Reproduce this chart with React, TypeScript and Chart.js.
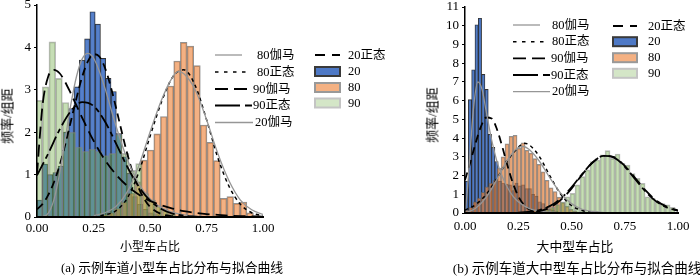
import React, { useEffect, useRef } from "react";
import { Chart, registerables } from "chart.js";

Chart.register(...registerables);

// ================= Panel (a): share of small cars =================
// histograms: bin start, bin width, frequency density per bin
const a20Start = 0;
const a20Width = 0.0234;
const a20Freq = [0.4, 1.25, 1.0, 1.05, 1.2, 2.0, 2.56, 3.07, 3.7, 4.2, 4.84, 4.55, 3.74, 3.27, 2.96, 1.97, 1.42, 1.03, 0.48, 0.3, 0.18, 0.1, 0.06, 0.03];
const a80Start = 0.2816;
const a80Width = 0.0294;
const a80Freq = [0.05, 0.1, 0.2, 0.35, 0.56, 0.83, 1.34, 1.58, 1.96, 2.37, 3.09, 3.68, 4.12, 4.03, 3.57, 2.17, 1.76, 1.33, 0.44, 0.48, 0.32, 0.35, 0.1, 0.03];
const a90Start = -0.006;
const a90Width = 0.0295;
const a90Freq = [2.75, 3.07, 4.13, 3.27, 2.7, 2.0, 1.65, 1.55, 1.6, 1.55, 1.45, 1.5, 1.95, 1.5, 1.1, 1.26, 0.55, 0.4, 0.25, 0.15, 0.08];

// fitted curves
const aG80X = [0.25, 0.3, 0.35, 0.4, 0.45, 0.5, 0.55, 0.6, 0.625, 0.65, 0.7, 0.75, 0.8, 0.85, 0.9, 0.95, 1.0];
const aG80Y = [0.03, 0.1, 0.25, 0.6, 1.2, 2.0, 2.75, 3.3, 3.43, 3.38, 3.0, 2.3, 1.5, 0.85, 0.4, 0.17, 0.06];
const aN80X = [0.25, 0.3, 0.35, 0.4, 0.45, 0.5, 0.55, 0.6, 0.65, 0.7, 0.75, 0.8, 0.85, 0.9, 0.95, 1.0];
const aN80Y = [0.01, 0.05, 0.15, 0.45, 1.05, 1.9, 2.7, 3.3, 3.47, 3.1, 2.3, 1.4, 0.72, 0.3, 0.1, 0.03];
const aG90X = [0, 0.01, 0.025, 0.05, 0.075, 0.1, 0.125, 0.15, 0.2, 0.25, 0.3, 0.35, 0.4, 0.45, 0.5, 0.55, 0.6, 0.65, 0.7, 0.75, 0.8, 0.85, 0.9, 0.95, 1.0];
const aG90Y = [1.0, 1.73, 2.66, 3.32, 3.47, 3.39, 3.18, 2.91, 2.34, 1.8, 1.35, 1.0, 0.73, 0.53, 0.38, 0.28, 0.2, 0.14, 0.1, 0.07, 0.05, 0.03, 0.02, 0.015, 0.01];
const aN90X = [0, 0.05, 0.1, 0.15, 0.2, 0.25, 0.3, 0.35, 0.4, 0.45, 0.5, 0.55, 0.6, 0.65, 0.7, 0.75];
const aN90Y = [0.98, 1.5, 2.06, 2.5, 2.71, 2.62, 2.26, 1.73, 1.18, 0.72, 0.39, 0.19, 0.08, 0.03, 0.01, 0];
const aG20X = [0, 0.025, 0.05, 0.075, 0.1, 0.125, 0.15, 0.175, 0.2, 0.225, 0.25, 0.275, 0.3, 0.35, 0.4, 0.45, 0.5, 0.55, 0.6, 0.65, 0.7, 0.75];
const aG20Y = [0, 0.01, 0.09, 0.41, 1.03, 1.84, 2.66, 3.32, 3.73, 3.86, 3.75, 3.45, 3.05, 2.14, 1.35, 0.79, 0.43, 0.22, 0.11, 0.05, 0.02, 0.01];
const aN20X = [0, 0.025, 0.05, 0.075, 0.1, 0.125, 0.15, 0.175, 0.2, 0.225, 0.25, 0.275, 0.3, 0.325, 0.35, 0.375, 0.4, 0.425, 0.45, 0.475, 0.5, 0.55, 0.6, 0.65];
const aN20Y = [0.18, 0.31, 0.52, 0.82, 1.22, 1.71, 2.26, 2.81, 3.31, 3.67, 3.84, 3.79, 3.53, 3.1, 2.57, 2.01, 1.48, 1.03, 0.68, 0.42, 0.24, 0.07, 0.02, 0];

// ================= Panel (b): share of medium/large vehicles =================
const b20Start = 0;
const b20Width = 0.0156;
const b20Freq = [1.7, 6.05, 7.65, 10.05, 10.4, 7.4, 6.6, 4.2, 3.5, 2.75, 1.7, 1.6, 1.55, 1.5, 1.2, 1.6, 1.45, 1.5, 1.3, 1.3, 1.0, 0.9, 0.6, 0.5, 0.3, 0.2, 0.15, 0.1, 0.05, 0.05];
const b80Start = 0;
const b80Width = 0.0188;
const b80Freq = [0.15, 0.3, 0.6, 0.8, 1.1, 1.4, 1.6, 1.75, 2.4, 3.0, 3.7, 4.1, 4.15, 3.45, 3.75, 3.35, 3.2, 2.9, 2.6, 2.2, 1.75, 1.35, 1.15, 0.85, 0.55, 0.35, 0.2, 0.1, 0.05];
const b90Start = 0.305;
const b90Width = 0.0235;
const b90Freq = [0.05, 0.1, 0.15, 0.2, 0.3, 0.45, 0.6, 0.87, 1.05, 1.5, 1.94, 2.3, 2.74, 2.83, 3.1, 3.33, 2.92, 3.15, 2.65, 2.56, 2.1, 1.85, 1.58, 0.87, 0.78, 0.6, 0.5, 0.43, 0.3];

const bG80X = [0, 0.05, 0.1, 0.15, 0.2, 0.25, 0.275, 0.3, 0.35, 0.4, 0.45, 0.5, 0.55, 0.6, 0.65];
const bG80Y = [0, 0.25, 0.85, 1.8, 2.85, 3.5, 3.55, 3.4, 2.75, 1.85, 1.05, 0.5, 0.2, 0.08, 0.03];
const bN80X = [0, 0.05, 0.1, 0.15, 0.2, 0.25, 0.275, 0.3, 0.35, 0.4, 0.45, 0.5, 0.55, 0.6, 0.65];
const bN80Y = [0.15, 0.45, 1.0, 1.85, 2.8, 3.5, 3.72, 3.65, 3.0, 1.95, 1.0, 0.4, 0.13, 0.04, 0.01];
const bG90X = [0.25, 0.3, 0.35, 0.4, 0.45, 0.5, 0.55, 0.6, 0.65, 0.7, 0.75, 0.8, 0.85, 0.9, 0.95, 1.0];
const bG90Y = [0, 0.03, 0.1, 0.3, 0.7, 1.3, 2.05, 2.7, 3.05, 2.98, 2.52, 1.85, 1.18, 0.65, 0.32, 0.14];
const bN90X = [0.25, 0.3, 0.35, 0.4, 0.45, 0.5, 0.55, 0.6, 0.65, 0.7, 0.75, 0.8, 0.85, 0.9, 0.95, 1.0];
const bN90Y = [0.02, 0.06, 0.16, 0.38, 0.78, 1.37, 2.08, 2.71, 3.05, 2.96, 2.48, 1.79, 1.12, 0.6, 0.28, 0.11];
const bG20X = [0, 0.01, 0.025, 0.04, 0.06, 0.08, 0.1, 0.125, 0.15, 0.175, 0.2, 0.225, 0.25, 0.3, 0.35, 0.4, 0.45];
const bG20Y = [0, 1.1, 3.4, 5.6, 7.0, 6.6, 5.4, 3.9, 2.75, 1.95, 1.35, 0.9, 0.6, 0.25, 0.1, 0.04, 0.01];
const bN20X = [0, 0.025, 0.05, 0.075, 0.1, 0.125, 0.15, 0.175, 0.2, 0.225, 0.25, 0.275, 0.3, 0.325, 0.35, 0.4];
const bN20Y = [1.76, 2.71, 3.74, 4.62, 5.1, 5.05, 4.47, 3.54, 2.51, 1.59, 0.9, 0.46, 0.21, 0.08, 0.03, 0];

const xTicks = [0, 0.25, 0.5, 0.75, 1.0];

// ================= styles =================
const FONT = '"Liberation Serif", "Noto Sans CJK SC", serif';
type LineStyle = { color: string; width: number; dash: number[] };
const LS: Record<string, LineStyle> = {
  g80: { color: "rgb(150,150,150)", width: 1.3, dash: [] },
  n80: { color: "#000", width: 1.5, dash: [3.5, 3.5] },
  g90: { color: "#000", width: 1.8, dash: [12, 6] },
  n90: { color: "#000", width: 1.8, dash: [15, 4, 5, 4] },
  g20: { color: "rgb(150,150,150)", width: 1.3, dash: [] },
  n20: { color: "#000", width: 1.8, dash: [8, 5] },
};
const BAR = {
  c20: { fill: "rgba(68,114,196,0.9)", edge: "rgba(30,30,30,0.9)", w: 0.9 },
  c80: { fill: "rgba(237,125,49,0.6)", edge: "rgba(100,100,100,0.7)", w: 1 },
  c90: { fill: "rgba(112,173,71,0.4)", edge: "rgba(130,130,130,0.55)", w: 1 },
};

function histPoints(start: number, width: number, freq: number[]) {
  return freq.map((y, i) => ({ x: start + (i + 0.5) * width, y }));
}
function curvePoints(xs: number[], ys: number[]) {
  return xs.map((x, i) => ({ x, y: ys[i] }));
}

function barDs(label: string, pts: any[], axis: string, c: { fill: string; edge: string; w: number }, order: number) {
  return {
    type: "bar" as const,
    label,
    data: pts,
    xAxisID: axis,
    backgroundColor: c.fill,
    borderColor: c.edge,
    borderWidth: c.w,
    categoryPercentage: 1,
    barPercentage: 1,
    grouped: false,
    order,
  };
}
function lineDs(label: string, pts: any[], s: LineStyle) {
  return {
    type: "line" as const,
    label,
    data: pts,
    xAxisID: "x",
    borderColor: s.color,
    borderWidth: s.width,
    borderDash: s.dash,
    pointRadius: 0,
    fill: false,
    cubicInterpolationMode: "monotone" as const,
    order: 0,
  };
}

type LegendItem = {
  kind: "line" | "box";
  x0: number;
  x1: number;
  y: number;
  tx: number;
  label: string;
  style?: LineStyle;
  dash?: number[];
  fill?: string;
  edge?: string;
};

function legendPlugin(items: LegendItem[]) {
  return {
    id: "customLegend",
    afterDraw(chart: any) {
      const ctx = chart.ctx as CanvasRenderingContext2D;
      ctx.save();
      for (const it of items) {
        if (it.kind === "line" && it.style) {
          ctx.strokeStyle = it.style.color;
          ctx.lineWidth = it.style.width;
          ctx.setLineDash(it.dash || it.style.dash);
          ctx.beginPath();
          ctx.moveTo(it.x0, it.y);
          ctx.lineTo(it.x1, it.y);
          ctx.stroke();
          ctx.setLineDash([]);
        } else {
          const h = 9;
          ctx.fillStyle = it.fill || "#fff";
          ctx.fillRect(it.x0, it.y - h / 2, it.x1 - it.x0, h);
          ctx.strokeStyle = it.edge || "#888";
          ctx.lineWidth = 2;
          ctx.strokeRect(it.x0, it.y - h / 2, it.x1 - it.x0, h);
        }
        ctx.fillStyle = "#000";
        ctx.font = `12.5px ${FONT}`;
        ctx.textAlign = "left";
        ctx.textBaseline = "middle";
        ctx.fillText(it.label, it.tx, it.y + 0.5);
      }
      ctx.restore();
    },
  };
}

type PanelProps = {
  left: number;
  width: number;
  area: { left: number; top: number; right: number; bottom: number };
  yMax: number;
  tickPad: number;
  datasets: any[];
  legend: LegendItem[];
};

function Panel({ left, width, area, yMax, tickPad, datasets, legend }: PanelProps) {
  const ref = useRef<HTMLCanvasElement>(null);
  useEffect(() => {
    const hidden = {
      type: "linear" as const,
      display: false,
      min: 0,
      max: 1,
      offset: false,
      ticks: { stepSize: 0.25 },
    };
    const chart = new Chart(ref.current as HTMLCanvasElement, {
      type: "bar",
      data: { datasets },
      options: {
        responsive: false,
        animation: false,
        layout: { padding: { left: area.left - 30, top: area.top, right: width - area.right, bottom: 0 } },
        plugins: { legend: { display: false }, tooltip: { enabled: false } },
        scales: {
          x: {
            type: "linear",
            min: 0,
            max: 1,
            offset: false,
            afterBuildTicks: (s: any) => {
              s.ticks = xTicks.map((v) => ({ value: v }));
            },
            ticks: {
              callback: (v: any) => Number(v).toFixed(2),
              color: "#000",
              padding: tickPad,
              maxRotation: 0,
              autoSkip: false,
              font: { family: FONT, size: 13 },
            },
            grid: { display: false, drawTicks: false },
            border: { display: true, color: "#000", width: 2, z: 2 },
            afterFit: (s: any) => {
              s.height = 278 - area.bottom;
              s.paddingLeft = 0;
              s.paddingRight = 0;
            },
          },
          xb: { ...hidden },
          xo: { ...hidden },
          xg: { ...hidden },
          y: {
            type: "linear",
            min: 0,
            max: yMax,
            ticks: {
              stepSize: 1,
              color: "#000",
              padding: 3,
              font: { family: FONT, size: 13 },
            },
            grid: { display: true, drawOnChartArea: false, drawTicks: true, tickLength: 3, color: "#000", lineWidth: 1 },
            border: { display: true, color: "#000", width: 1.5, z: 2 },
            afterFit: (s: any) => {
              s.width = 30;
              s.paddingTop = 0;
              s.paddingBottom = 0;
            },
          },
        },
      } as any,
      plugins: [legendPlugin(legend)],
    });
    return () => chart.destroy();
  }, []);
  return (
    <canvas
      ref={ref}
      width={width}
      height={278}
      style={{ position: "absolute", left, top: 0, width, height: 278 }}
    />
  );
}

function Txt({ x, y, size, text, rotate }: { x: number; y: number; size: number; text: string; rotate?: boolean }) {
  return (
    <div
      style={{
        position: "absolute",
        left: x,
        top: y,
        transform: `translate(-50%, -50%)${rotate ? " rotate(-90deg)" : ""}`,
        whiteSpace: "nowrap",
        fontFamily: FONT,
        fontSize: size,
        lineHeight: 1,
        color: "#000",
      }}
    >
      {text}
    </div>
  );
}

const datasetsA = [
  lineDs("80伽马", curvePoints(aG80X, aG80Y), LS.g80),
  lineDs("80正态", curvePoints(aN80X, aN80Y), LS.n80),
  lineDs("90伽马", curvePoints(aG90X, aG90Y), LS.g90),
  lineDs("90正态", curvePoints(aN90X, aN90Y), LS.n90),
  lineDs("20伽马", curvePoints(aG20X, aG20Y), LS.g20),
  lineDs("20正态", curvePoints(aN20X, aN20Y), LS.n20),
  barDs("90", histPoints(a90Start, a90Width, a90Freq), "xg", BAR.c90, 1),
  barDs("80", histPoints(a80Start, a80Width, a80Freq), "xo", BAR.c80, 2),
  barDs("20", histPoints(a20Start, a20Width, a20Freq), "xb", BAR.c20, 3),
];

const datasetsB = [
  lineDs("80伽马", curvePoints(bG80X, bG80Y), LS.g80),
  lineDs("80正态", curvePoints(bN80X, bN80Y), LS.n80),
  lineDs("90伽马", curvePoints(bG90X, bG90Y), LS.g90),
  lineDs("90正态", curvePoints(bN90X, bN90Y), LS.n90),
  lineDs("20伽马", curvePoints(bG20X, bG20Y), LS.g20),
  lineDs("20正态", curvePoints(bN20X, bN20Y), LS.n20),
  barDs("90", histPoints(b90Start, b90Width, b90Freq), "xg", BAR.c90, 1),
  barDs("80", histPoints(b80Start, b80Width, b80Freq), "xo", BAR.c80, 2),
  barDs("20", histPoints(b20Start, b20Width, b20Freq), "xb", BAR.c20, 3),
];

const dashN80 = [3.5, 5.5];
const dashG90 = [13, 6];
const dashN90 = [25, 5, 8, 5];
const dashN20 = [10, 7];

const legendA: LegendItem[] = [
  { kind: "line", style: LS.g80, x0: 215, x1: 242, y: 55, tx: 257, label: "80伽马" },
  { kind: "line", style: LS.n80, dash: dashN80, x0: 215, x1: 248, y: 72, tx: 257, label: "80正态" },
  { kind: "line", style: LS.g90, dash: dashG90, x0: 215, x1: 252, y: 89, tx: 253, label: "90伽马" },
  { kind: "line", style: LS.n90, dash: dashN90, x0: 215, x1: 252, y: 105.5, tx: 253, label: "90正态" },
  { kind: "line", style: LS.g20, x0: 215, x1: 253, y: 122.5, tx: 255, label: "20伽马" },
  { kind: "line", style: LS.n20, dash: dashN20, x0: 315, x1: 340, y: 55, tx: 348, label: "20正态" },
  { kind: "box", fill: "rgb(78,121,198)", edge: "#3a3a3a", x0: 315, x1: 340, y: 71.5, tx: 348, label: "20" },
  { kind: "box", fill: "rgb(244,177,131)", edge: "#999", x0: 315, x1: 340, y: 87.5, tx: 348, label: "80" },
  { kind: "box", fill: "rgb(212,230,199)", edge: "#c4c4c4", x0: 315, x1: 340, y: 103, tx: 348, label: "90" },
];

const legendB: LegendItem[] = [
  { kind: "line", style: LS.g80, x0: 113, x1: 140, y: 25, tx: 152, label: "80伽马" },
  { kind: "line", style: LS.n80, dash: dashN80, x0: 113, x1: 147, y: 41.7, tx: 152, label: "80正态" },
  { kind: "line", style: LS.g90, dash: dashG90, x0: 113, x1: 150, y: 58.3, tx: 151, label: "90伽马" },
  { kind: "line", style: LS.n90, dash: dashN90, x0: 113, x1: 150, y: 75, tx: 151, label: "90正态" },
  { kind: "line", style: LS.g20, x0: 113, x1: 150, y: 91.7, tx: 152, label: "20伽马" },
  { kind: "line", style: LS.n20, dash: dashN20, x0: 213, x1: 237, y: 26, tx: 248, label: "20正态" },
  { kind: "box", fill: "rgb(78,121,198)", edge: "#3a3a3a", x0: 213, x1: 237, y: 41.7, tx: 248, label: "20" },
  { kind: "box", fill: "rgb(244,177,131)", edge: "#999", x0: 213, x1: 237, y: 57.7, tx: 248, label: "80" },
  { kind: "box", fill: "rgb(212,230,199)", edge: "#c4c4c4", x0: 213, x1: 237, y: 73.3, tx: 248, label: "90" },
];

export default function App() {
  return (
    <div style={{ position: "absolute", left: 0, top: 0, width: 700, height: 278, background: "#fff", overflow: "hidden" }}>
      <Panel
        left={0}
        width={400}
        area={{ left: 37, top: 5, right: 263, bottom: 217 }}
        yMax={5}
        tickPad={4}
        datasets={datasetsA}
        legend={legendA}
      />
      <Panel
        left={400}
        width={300}
        area={{ left: 65, top: 7, right: 278, bottom: 213 }}
        yMax={11}
        tickPad={6}
        datasets={datasetsB}
        legend={legendB}
      />
      <Txt x={7} y={116} size={13} text="频率/组距" rotate />
      <Txt x={150} y={247} size={12} text="小型车占比" />
      <Txt x={172} y={268} size={12.8} text="(a) 示例车道小型车占比分布与拟合曲线" />
      <Txt x={432} y={115} size={13} text="频率/组距" rotate />
      <Txt x={575} y={247} size={12.8} text="大中型车占比" />
      <Txt x={577} y={269} size={13.5} text="(b) 示例车道大中型车占比分布与拟合曲线" />
    </div>
  );
}
